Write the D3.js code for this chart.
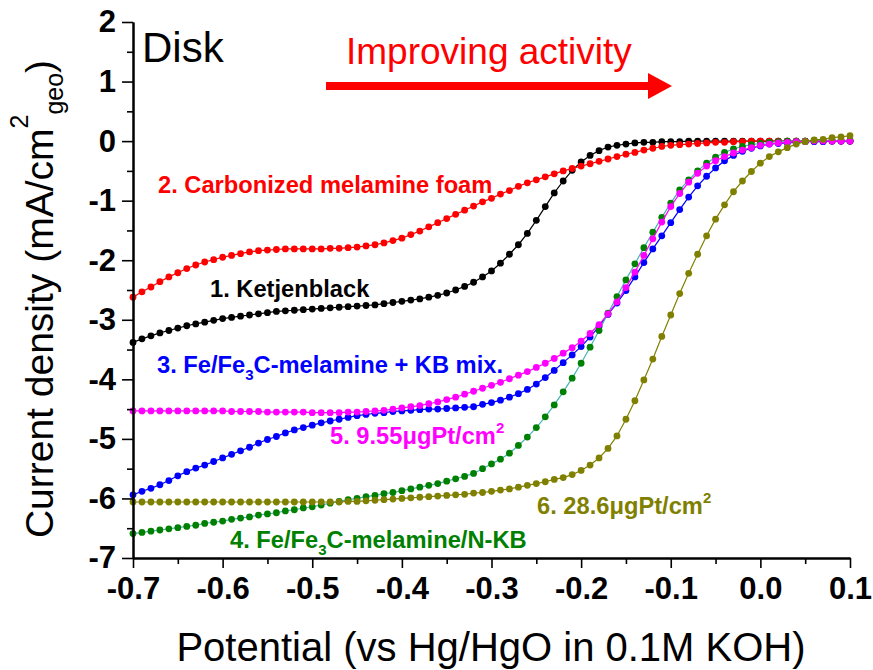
<!DOCTYPE html>
<html>
<head>
<meta charset="utf-8">
<script src="https://cdn.jsdelivr.net/npm/d3@7"></script>
<style>
body { margin: 0; background: #fff; }
text { font-family: "Liberation Sans", Arial, sans-serif; }
</style>
</head>
<body>
<div id="chart"></div>
<script>
//////////////////////////////////////////////////////////////////////////////
// data (potential in V vs Hg/HgO, current in mA/cm2)

var potential = [
  -0.70, -0.69, -0.68, -0.67, -0.66, -0.65, -0.64, -0.63, -0.62, -0.61,
  -0.60, -0.59, -0.58, -0.57, -0.56, -0.55, -0.54, -0.53, -0.52, -0.51,
  -0.50, -0.49, -0.48, -0.47, -0.46, -0.45, -0.44, -0.43, -0.42, -0.41,
  -0.40, -0.39, -0.38, -0.37, -0.36, -0.35, -0.34, -0.33, -0.32, -0.31,
  -0.30, -0.29, -0.28, -0.27, -0.26, -0.25, -0.24, -0.23, -0.22, -0.21,
  -0.20, -0.19, -0.18, -0.17, -0.16, -0.15, -0.14, -0.13, -0.12, -0.11,
  -0.10, -0.09, -0.08, -0.07, -0.06, -0.05, -0.04, -0.03, -0.02, -0.01,
  0.00, 0.01, 0.02, 0.03, 0.04, 0.05, 0.06, 0.07, 0.08, 0.09, 0.10
];

var ketjenblack = [
  -3.38, -3.32, -3.27, -3.22, -3.18, -3.14, -3.10, -3.07, -3.04, -3.01,
  -2.98, -2.96, -2.94, -2.92, -2.90, -2.88, -2.86, -2.85, -2.84, -2.83,
  -2.82, -2.81, -2.80, -2.79, -2.78, -2.77, -2.76, -2.75, -2.73, -2.71,
  -2.69, -2.67, -2.65, -2.62, -2.59, -2.55, -2.50, -2.44, -2.37, -2.28,
  -2.18, -2.05, -1.90, -1.74, -1.55, -1.33, -1.10, -0.87, -0.67, -0.49,
  -0.35, -0.24, -0.16, -0.10, -0.07, -0.05, -0.03, -0.02, -0.02, -0.01,
  -0.01, -0.01, 0.00, 0.00, 0.00, 0.00, 0.00, 0.00, 0.00, 0.00,
  0.00, 0.00, 0.00, 0.00, 0.00, 0.00, 0.00, 0.00, 0.00, 0.00, 0.00
];

var melamineFoam = [
  -2.62, -2.53, -2.45, -2.36, -2.28, -2.21, -2.14, -2.08, -2.03, -1.99,
  -1.95, -1.92, -1.89, -1.86, -1.84, -1.83, -1.82, -1.81, -1.81, -1.81,
  -1.81, -1.81, -1.80, -1.80, -1.79, -1.78, -1.76, -1.74, -1.71, -1.67,
  -1.63, -1.57, -1.51, -1.44, -1.37, -1.30, -1.23, -1.16, -1.09, -1.02,
  -0.96, -0.89, -0.83, -0.76, -0.70, -0.65, -0.60, -0.55, -0.50, -0.46,
  -0.42, -0.38, -0.34, -0.30, -0.26, -0.22, -0.19, -0.15, -0.12, -0.09,
  -0.07, -0.06, -0.05, -0.04, -0.03, -0.02, -0.02, -0.01, -0.01, 0.00,
  0.00, 0.00, 0.00, 0.00, 0.00, 0.00, 0.00, 0.00, 0.00, 0.00, 0.00
];

var feMix = [
  -5.94, -5.88, -5.83, -5.77, -5.70, -5.62, -5.55, -5.49, -5.44, -5.38,
  -5.32, -5.26, -5.20, -5.14, -5.07, -5.01, -4.96, -4.90, -4.85, -4.81,
  -4.77, -4.73, -4.70, -4.67, -4.64, -4.61, -4.59, -4.57, -4.56, -4.54,
  -4.53, -4.52, -4.51, -4.50, -4.50, -4.49, -4.48, -4.47, -4.46, -4.42,
  -4.39, -4.35, -4.30, -4.24, -4.17, -4.08, -3.97, -3.85, -3.72, -3.59,
  -3.45, -3.29, -3.11, -2.91, -2.72, -2.51, -2.28, -2.04, -1.81, -1.59,
  -1.37, -1.15, -0.94, -0.75, -0.59, -0.45, -0.33, -0.24, -0.17, -0.12,
  -0.08, -0.05, -0.04, -0.03, -0.02, -0.01, -0.01, -0.01, 0.00, 0.00, 0.00
];

var feNKB = [
  -6.59, -6.57, -6.55, -6.53, -6.51, -6.49, -6.47, -6.45, -6.42, -6.40,
  -6.38, -6.35, -6.33, -6.31, -6.28, -6.26, -6.24, -6.21, -6.19, -6.16,
  -6.14, -6.11, -6.08, -6.05, -6.02, -6.00, -5.97, -5.95, -5.92, -5.90,
  -5.87, -5.84, -5.81, -5.78, -5.75, -5.71, -5.67, -5.63, -5.58, -5.50,
  -5.42, -5.34, -5.24, -5.11, -4.97, -4.81, -4.63, -4.43, -4.21, -3.98,
  -3.73, -3.46, -3.18, -2.89, -2.61, -2.33, -2.06, -1.79, -1.53, -1.28,
  -1.04, -0.82, -0.65, -0.50, -0.37, -0.27, -0.19, -0.13, -0.09, -0.06,
  -0.04, -0.02, -0.01, 0.00, 0.00, 0.00, 0.01, 0.01, 0.01, 0.01, 0.01
];

var pt955 = [
  -4.53, -4.53, -4.53, -4.53, -4.53, -4.53, -4.53, -4.53, -4.53, -4.53,
  -4.53, -4.54, -4.54, -4.54, -4.54, -4.55, -4.55, -4.55, -4.55, -4.55,
  -4.56, -4.56, -4.56, -4.56, -4.55, -4.55, -4.54, -4.53, -4.52, -4.50,
  -4.48, -4.46, -4.44, -4.41, -4.38, -4.34, -4.30, -4.25, -4.20, -4.15,
  -4.10, -4.05, -3.99, -3.93, -3.87, -3.80, -3.73, -3.65, -3.56, -3.47,
  -3.36, -3.23, -3.08, -2.90, -2.70, -2.46, -2.20, -1.92, -1.64, -1.36,
  -1.10, -0.88, -0.69, -0.54, -0.42, -0.33, -0.26, -0.20, -0.15, -0.11,
  -0.07, -0.05, -0.03, -0.02, -0.01, -0.01, 0.00, 0.00, 0.00, 0.00, 0.00
];

var pt286 = [
  -6.06, -6.06, -6.06, -6.06, -6.06, -6.06, -6.06, -6.06, -6.06, -6.06,
  -6.06, -6.06, -6.06, -6.06, -6.06, -6.06, -6.06, -6.06, -6.06, -6.06,
  -6.06, -6.06, -6.06, -6.06, -6.05, -6.05, -6.04, -6.03, -6.02, -6.01,
  -6.00, -5.99, -5.98, -5.97, -5.96, -5.95, -5.94, -5.93, -5.91, -5.90,
  -5.88, -5.86, -5.84, -5.81, -5.78, -5.75, -5.72, -5.68, -5.65, -5.60,
  -5.53, -5.44, -5.32, -5.16, -4.95, -4.67, -4.36, -4.01, -3.66, -3.28,
  -2.92, -2.56, -2.22, -1.90, -1.59, -1.31, -1.07, -0.85, -0.67, -0.51,
  -0.37, -0.26, -0.18, -0.11, -0.05, -0.01, 0.02, 0.03, 0.06, 0.07, 0.09
];

var xTicks = [-0.7, -0.6, -0.5, -0.4, -0.3, -0.2, -0.1, 0.0, 0.1];
var xMinor = [-0.65, -0.55, -0.45, -0.35, -0.25, -0.15, -0.05, 0.05];
var yTicks = [2, 1, 0, -1, -2, -3, -4, -5, -6, -7];
var yMinor = [1.5, 0.5, -0.5, -1.5, -2.5, -3.5, -4.5, -5.5, -6.5];

//////////////////////////////////////////////////////////////////////////////
// drawing

var width = 873, height = 670;

var svg = d3.select("#chart").append("svg")
    .attr("width", width)
    .attr("height", height)
    .style("display", "block");

svg.append("rect")
    .attr("width", width)
    .attr("height", height)
    .attr("fill", "#fff");

var x = d3.scaleLinear().domain([-0.7, 0.1]).range([133, 850]);
var y = d3.scaleLinear().domain([-7, 2]).range([558, 22]);

var series = [
    {values: ketjenblack, color: "#000000", line: "#000000"},
    {values: melamineFoam, color: "#ff0000", line: "#ff0000"},
    {values: feMix, color: "#0000ff", line: "#0000ff"},
    {values: feNKB, color: "#008000", line: "#46b4b4"},
    {values: pt955, color: "#ff00ff", line: "#ff00ff"},
    {values: pt286, color: "#808000", line: "#808000"}
];

var line = d3.line()
    .x(function(d) { return x(d[0]); })
    .y(function(d) { return y(d[1]); });

series.forEach(function(s) {
    var pts = potential.map(function(p, i) { return [p, s.values[i]]; });
    var g = svg.append("g");
    g.append("path")
        .datum(pts)
        .attr("d", line)
        .attr("fill", "none")
        .attr("stroke", s.line)
        .attr("stroke-width", 1.2);
    g.selectAll("circle")
        .data(pts)
        .enter().append("circle")
        .attr("cx", function(d) { return x(d[0]); })
        .attr("cy", function(d) { return y(d[1]); })
        .attr("r", 3.4)
        .attr("fill", s.color);
});

// axes: major ticks with labels, minor ticks without
svg.append("g")
    .attr("transform", "translate(0," + y(-7) + ")")
    .call(d3.axisBottom(x).tickValues(xTicks).tickSize(10).tickSizeOuter(0).tickPadding(9)
        .tickFormat(function(d) { return d.toFixed(1); }));
svg.append("g")
    .attr("transform", "translate(0," + y(-7) + ")")
    .call(d3.axisBottom(x).tickValues(xMinor).tickSize(6).tickSizeOuter(0).tickFormat(""));

svg.append("g")
    .attr("transform", "translate(" + x(-0.7) + ",0)")
    .call(d3.axisLeft(y).tickValues(yTicks).tickSize(11).tickSizeOuter(0).tickPadding(6)
        .tickFormat(function(d) { return String(d); }));
svg.append("g")
    .attr("transform", "translate(" + x(-0.7) + ",0)")
    .call(d3.axisLeft(y).tickValues(yMinor).tickSize(6).tickSizeOuter(0).tickFormat(""));

svg.selectAll(".domain").attr("stroke", "#000").attr("stroke-width", 2);
svg.selectAll(".tick line").attr("stroke", "#000").attr("stroke-width", 1.6);
svg.selectAll(".tick text")
    .attr("fill", "#000")
    .attr("font-size", 31)
    .attr("font-weight", "bold")
    .attr("font-family", "Liberation Sans, Arial, sans-serif");

function addParts(sel, parts, small, sub, sup) {
    var offset = 0;
    parts.forEach(function(p) {
        var target = p[1] === "sub" ? sub : (p[1] === "sup" ? -sup : 0);
        var t = sel.append("tspan")
            .attr("dy", target - offset)
            .text(p[0]);
        if (p[1]) t.attr("font-size", small);
        offset = target;
    });
}

// axis titles
svg.append("text")
    .attr("x", 491)
    .attr("y", 661)
    .attr("text-anchor", "middle")
    .attr("font-size", 40)
    .text("Potential (vs Hg/HgO in 0.1M KOH)");

var yTitle = svg.append("text")
    .attr("transform", "translate(53,299) rotate(-90)")
    .attr("text-anchor", "middle")
    .attr("font-size", 39);
addParts(yTitle, [["Current density (mA/cm", ""], ["2", "sup"], ["geo", "sub"], [")", ""]], 25, 10, 25);

svg.append("text")
    .attr("x", 142)
    .attr("y", 62)
    .attr("font-size", 42)
    .text("Disk");

svg.append("text")
    .attr("x", 346)
    .attr("y", 64)
    .attr("font-size", 37)
    .attr("fill", "#ff0000")
    .text("Improving activity");

svg.append("line")
    .attr("x1", 326).attr("x2", 650)
    .attr("y1", 86).attr("y2", 86)
    .attr("stroke", "#ff0000")
    .attr("stroke-width", 8);
svg.append("path")
    .attr("d", "M648,73L672,86L648,99Z")
    .attr("fill", "#ff0000");

// curve labels
var labels = [
    {parts: [["2. Carbonized melamine foam", ""]], color: "#ff0000", x: 158, y: 193},
    {parts: [["1. Ketjenblack", ""]], color: "#000000", x: 210, y: 297},
    {parts: [["3. Fe/Fe", ""], ["3", "sub"], ["C-melamine + KB mix.", ""]], color: "#0000ff", x: 157, y: 373},
    {parts: [["5. 9.55\u03bcgPt/cm", ""], ["2", "sup"]], color: "#ff00ff", x: 330, y: 444},
    {parts: [["6. 28.6\u03bcgPt/cm", ""], ["2", "sup"]], color: "#808000", x: 537, y: 514},
    {parts: [["4. Fe/Fe", ""], ["3", "sub"], ["C-melamine/N-KB", ""]], color: "#008000", x: 230, y: 548}
];

labels.forEach(function(l) {
    var t = svg.append("text")
        .attr("x", l.x)
        .attr("y", l.y)
        .attr("font-size", 23.7)
        .attr("font-weight", "bold")
        .attr("fill", l.color);
    addParts(t, l.parts, 15, 7, 11);
});
</script>
</body>
</html>
